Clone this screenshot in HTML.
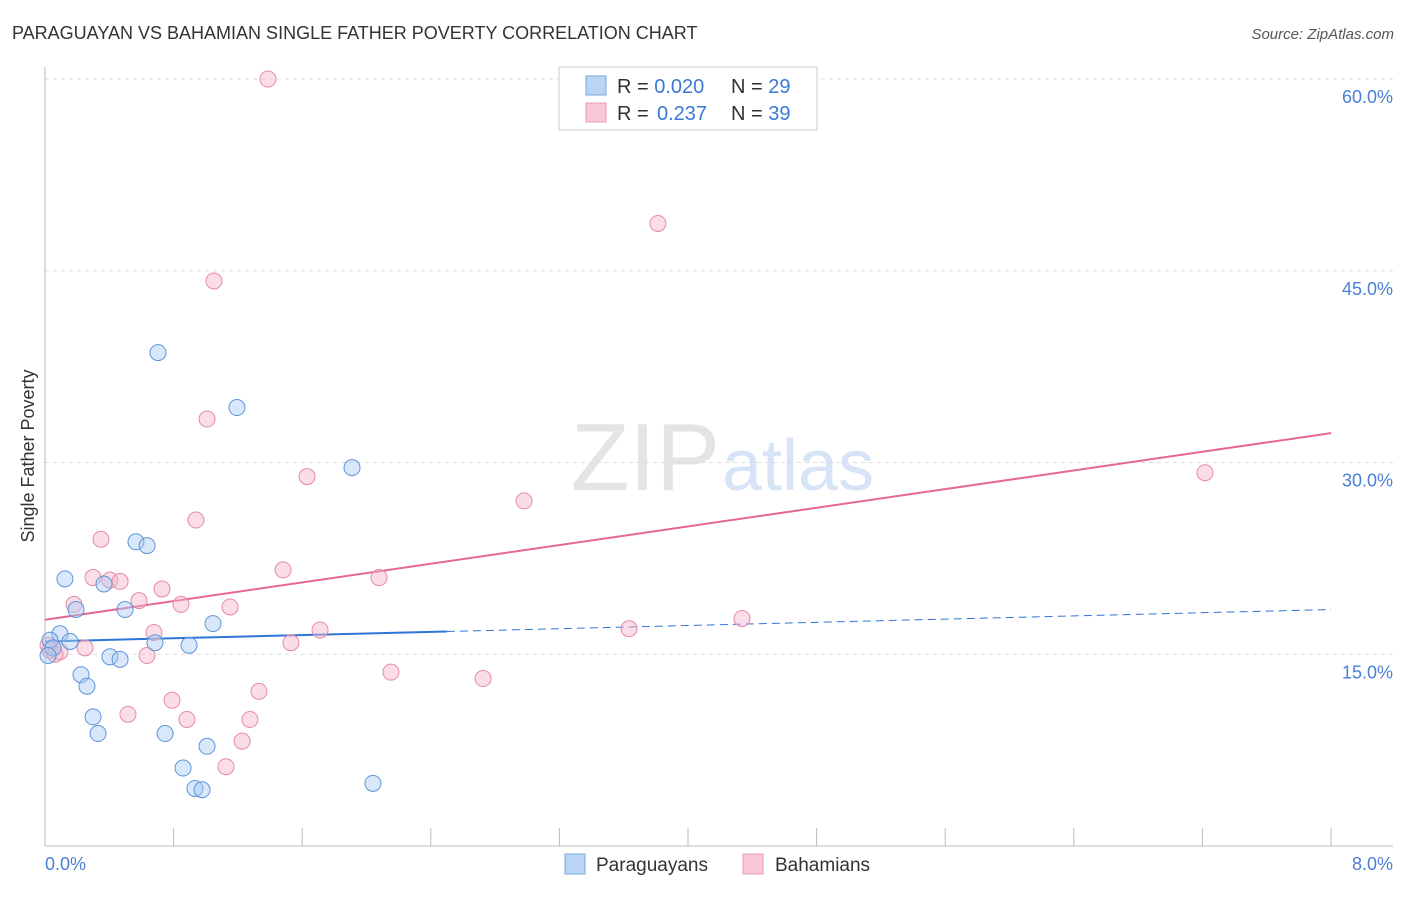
<!DOCTYPE html>
<html><head><meta charset="utf-8"><style>
body{margin:0;background:#fff;font-family:"Liberation Sans",sans-serif;}
svg text{font-family:"Liberation Sans",sans-serif;}
</style></head><body>
<svg id="chart" width="1406" height="892" xmlns="http://www.w3.org/2000/svg">
<text x="12" y="39" font-size="18" fill="#333">PARAGUAYAN VS BAHAMIAN SINGLE FATHER POVERTY CORRELATION CHART</text>
<text x="1394" y="39" font-size="15" fill="#555" text-anchor="end" font-style="italic">Source: ZipAtlas.com</text>
<text x="720" y="490" font-size="96" fill="#e4e4e4" text-anchor="end" font-family="Liberation Serif">ZIP</text>
<text x="722" y="490" font-size="72" fill="#d6e4f5">atlas</text>
<g id="grid"></g><g id="axes"></g><g id="trends"></g><g id="points"></g>
<text transform="translate(34,456) rotate(-90)" font-size="18" fill="#333" text-anchor="middle">Single Father Poverty</text>
<text x="45" y="870" font-size="18" fill="#4a7fd4">0.0%</text>
<text x="1393" y="870" font-size="18" fill="#4a7fd4" text-anchor="end">8.0%</text>
<g>
<rect x="559" y="67" width="258" height="63" fill="#fff" stroke="#ccc"/>
<rect x="586" y="76" width="20" height="19" fill="#b9d4f5" stroke="#7aa6de"/>
<rect x="586" y="103" width="20" height="19" fill="#f9c8d8" stroke="#ea9ab5"/>
<text x="617" y="93" font-size="20" fill="#333">R = <tspan fill="#3a78d6">0.020</tspan><tspan x="731">N = </tspan><tspan fill="#3a78d6">29</tspan></text>
<text x="617" y="120" font-size="20" fill="#333">R = <tspan x="657" fill="#3a78d6">0.237</tspan><tspan x="731">N = </tspan><tspan fill="#3a78d6">39</tspan></text>
</g>
<g>
<rect x="565" y="854" width="20" height="20" fill="#b9d4f5" stroke="#7aa6de"/>
<text x="596" y="871" font-size="19" fill="#333">Paraguayans</text>
<rect x="743" y="854" width="20" height="20" fill="#f9c8d8" stroke="#ea9ab5"/>
<text x="775" y="871" font-size="19" fill="#333">Bahamians</text>
</g>
</svg>
<script>
const yTicks=[15,30,45,60];
const xTicks=[0,0.8,1.6,2.4,3.2,4,4.8,5.6,6.4,7.2,8];
const paraX=[0.703,1.194,1.910,0.566,0.635,0.124,0.367,0.193,0.498,1.045,0.093,0.156,0.684,0.896,0.031,0.050,0.404,0.467,0.224,0.261,0.299,0.330,0.747,1.008,0.859,0.933,0.977,2.040,0.019];
const paraY=[38.6,34.3,29.6,23.8,23.5,20.9,20.5,18.5,18.5,17.4,16.6,16.0,15.9,15.7,16.1,15.5,14.8,14.6,13.4,12.5,10.1,8.8,8.8,7.8,6.1,4.5,4.4,4.9,14.9];
const bahaX=[1.387,3.813,1.051,1.008,1.630,2.980,7.216,0.939,0.348,1.481,0.299,0.404,0.467,2.078,0.728,0.585,0.846,0.180,1.151,4.336,3.633,1.711,0.678,1.530,0.249,0.031,0.093,0.635,2.152,2.725,1.331,0.790,0.516,0.883,1.275,1.226,1.126,0.019,0.062];
const bahaY=[60.0,48.7,44.2,33.4,28.9,27.0,29.2,25.5,24.0,21.6,21.0,20.8,20.7,21.0,20.1,19.2,18.9,18.9,18.7,17.8,17.0,16.9,16.7,15.9,15.5,15.3,15.2,14.9,13.6,13.1,12.1,11.4,10.3,9.9,9.9,8.2,6.2,15.7,15.0];
const paraTrend=[16.0,18.5];
const bahaTrend=[17.7,32.3];
const paraSolidEnd=2.5;
const X=v=>45+v/8*1286, Y=v=>846-v*12.783;
const NS="http://www.w3.org/2000/svg";
function mk(parent,tag,attrs){const e=document.createElementNS(NS,tag);for(const k in attrs)e.setAttribute(k,attrs[k]);document.getElementById(parent).appendChild(e);return e;}
yTicks.forEach(t=>{
 const l=mk('grid','line',{x1:45,x2:1393,y1:Y(t),y2:Y(t),stroke:'#ddd','stroke-dasharray':'4,4'});
 
 
 const tx=mk('grid','text',{x:1393,y:Y(t)+24,'font-size':18,fill:'#4a7fd4','text-anchor':'end'});
 tx.textContent=t.toFixed(1)+'%';
 
 
});
const ax=mk('axes','line',{x1:45,x2:45,y1:67,y2:846,stroke:'#bbb'});


const bx=mk('axes','line',{x1:45,x2:1393,y1:846,y2:846,stroke:'#bbb'});


xTicks.forEach(t=>{
 const l=mk('axes','line',{x1:X(t),x2:X(t),y1:828,y2:846,stroke:'#bbb'});
 
 
});
function dots(xs,ys,fill,stroke,name){xs.forEach((x,i)=>{
 const c=mk('points','circle',{cx:X(x),cy:Y(ys[i]),r:8,fill:fill,'fill-opacity':0.45,stroke:stroke,'stroke-width':1});
 
 
});}
dots(bahaX,bahaY,'#f5b3c8','#e68aa9','bahamian-point');
dots(paraX,paraY,'#a9c9f1','#5f95da','paraguayan-point');
const pm=(paraTrend[1]-paraTrend[0])/8;
const t1=mk('trends','line',{x1:X(0),y1:Y(paraTrend[0]),x2:X(paraSolidEnd),y2:Y(paraTrend[0]+pm*paraSolidEnd),stroke:'#2f74d8','stroke-width':2});


const t2=mk('trends','line',{x1:X(paraSolidEnd),y1:Y(paraTrend[0]+pm*paraSolidEnd),x2:X(8),y2:Y(paraTrend[1]),stroke:'#2f74d8','stroke-width':1,'stroke-dasharray':'8,5'});


const t3=mk('trends','line',{x1:X(0),y1:Y(bahaTrend[0]),x2:X(8),y2:Y(bahaTrend[1]),stroke:'#e5679a','stroke-width':2});


</script>
</body></html>
